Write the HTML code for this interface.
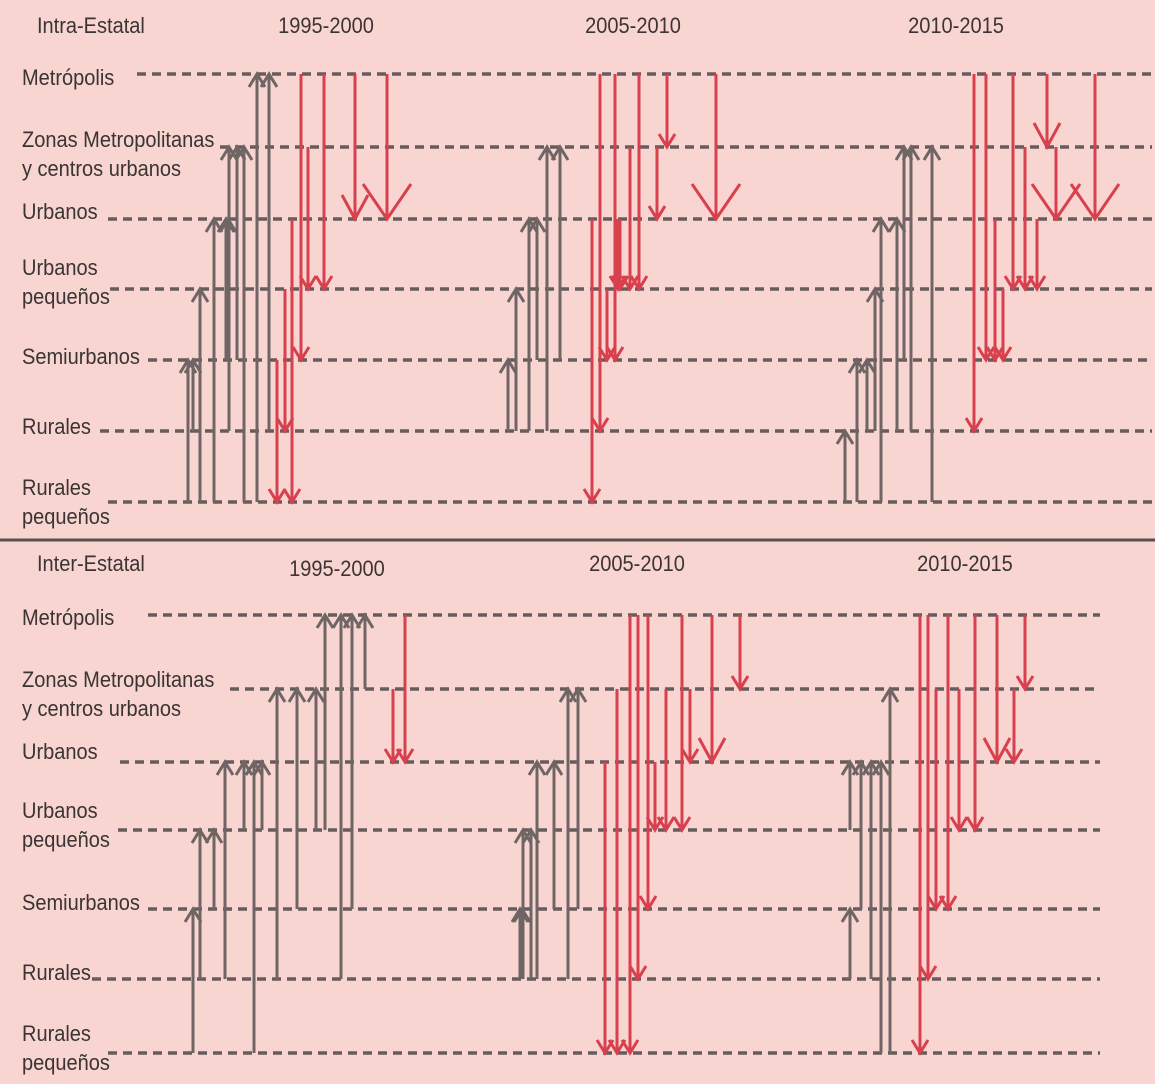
<!DOCTYPE html>
<html><head><meta charset="utf-8"><style>
html,body{margin:0;padding:0;background:#f8d5d0;}
svg{display:block;}
text{font-family:"Liberation Sans Narrow","Liberation Sans",sans-serif;fill:#3a3434;font-size:22px;}
</style></head><body>
<svg id="chart" width="1155" height="1084" viewBox="0 0 1155 1084" xmlns="http://www.w3.org/2000/svg">
<rect x="0" y="0" width="1155" height="1084" fill="#f8d5d0"/>
<line x1="0" y1="540" x2="1155" y2="540" stroke="#5a5050" stroke-width="3"/>
<g id="grid"></g>
<g id="labels"></g>
<g id="arrows"></g>
<g id="titles"></g>
</svg>
<script>
const categories = [["Metrópolis"],["Zonas Metropolitanas","y centros urbanos"],["Urbanos"],["Urbanos","pequeños"],["Semiurbanos"],["Rurales"],["Rurales","pequeños"]];
const topLevelsY = [74,147,219,289,360,431,502];
const bottomLevelsY = [615,689,762,830,909,979,1053];
const topLineStart = [137,220,108,110,148,100,108];
const bottomLineStart = [148,230,120,118,148,92,108];
const topLabelOffset = [11,0,0,-14,4,3,-7];
const bottomLabelOffset = [10,-2,-3,-12,1,1,-12];
// arrows: [x, fromLevel, toLevel, headSize(1 small,2 medium,3 big)]
const topArrows = [
 [188,6,4,1],[193,5,4,1],[200,6,3,1],[214,6,2,1],[226,4,2,1],[228,4,2,1],[229,5,1,1],[237,4,1,1],[244,6,1,1],[257,6,0,1],[269,5,0,1],
 [277,4,6,1],[285,3,5,1],[292,2,6,1],[301,0,4,1],[308,1,3,1],[324,0,3,1],[355,0,2,2],[387,0,2,3],
 [508,5,4,1],[516,5,3,1],[529,5,2,1],[537,4,2,1],[547,5,1,1],[560,4,1,1],
 [592,2,6,1],[600,0,5,1],[607,3,4,1],[615,0,4,1],[618,2,3,1],[620,2,3,1],[630,1,3,1],[639,0,3,1],[657,1,2,1],[667,0,1,1],[716,0,2,3],
 [845,6,5,1],[857,6,4,1],[867,5,4,1],[875,5,3,1],[881,6,2,1],[897,5,2,1],[904,4,1,1],[911,5,1,1],[932,6,1,1],
 [974,0,5,1],[986,0,4,1],[995,2,4,1],[1003,3,4,1],[1013,0,3,1],[1025,1,3,1],[1037,2,3,1],[1047,0,1,2],[1056,1,2,3],[1095,0,2,3]
];
const bottomArrows = [
 [193,6,4,1],[200,5,3,1],[214,4,3,1],[225,5,2,1],[244,3,2,1],[254,6,2,1],[262,3,2,1],[277,5,1,1],[297,4,1,1],[316,3,1,1],[325,3,0,1],[341,5,0,1],[352,4,0,1],[365,1,0,1],
 [393,1,2,1],[405,0,2,1],
 [520,5,4,1],[522,5,4,1],[523,5,3,1],[531,5,3,1],[537,5,2,1],[554,4,2,1],[568,5,1,1],[578,4,1,1],
 [605,2,6,1],[617,1,6,1],[630,0,6,1],[638,0,5,1],[648,0,4,1],[655,2,3,1],[666,1,3,1],[682,0,3,1],[690,1,2,1],[712,0,2,2],[740,0,1,1],
 [850,5,4,1],[850,3,2,1],[861,4,2,1],[871,5,2,1],[881,6,2,1],[890,6,1,1],
 [920,0,6,1],[928,0,5,1],[936,1,4,1],[948,0,4,1],[959,1,3,1],[975,0,3,1],[997,0,2,2],[1014,1,2,1],[1025,0,1,1]
];
const titleTexts = ["Intra-Estatal","1995-2000","2005-2010","2010-2015","Inter-Estatal","1995-2000","2005-2010","2010-2015"];
const NS='http://www.w3.org/2000/svg';
const SX=0.91;
const grid=document.getElementById('grid'), labels=document.getElementById('labels'), arrowsG=document.getElementById('arrows'), titlesG=document.getElementById('titles');
function mk(tag,attrs,parent){const e=document.createElementNS(NS,tag);for(const k in attrs)e.setAttribute(k,attrs[k]);parent.appendChild(e);return e;}
function txt(parent,x,y,s,anchor){
 const t=mk('text',{x:x,y:y,transform:'translate('+x+',0) scale('+SX+',1) translate('+(-x)+',0)'},parent);
 if(anchor)t.setAttribute('text-anchor',anchor);
 t.textContent=s;return t;
}
const titlePos=[[37,33,null],[326,33,'middle'],[633,33,'middle'],[956,33,'middle'],[37,571,null],[337,576,'middle'],[637,571,'middle'],[965,571,'middle']];
titleTexts.forEach((s,i)=>{
 const t=txt(titlesG,titlePos[i][0],titlePos[i][1],s,titlePos[i][2]);
 
 
});
function drawPanel(levels,starts,offs,endX,arrs,prefix){
 levels.forEach((y,i)=>{
  const l=mk('line',{x1:starts[i],y1:y,x2:endX,y2:y,stroke:'#675c5c','stroke-width':3.5,'stroke-dasharray':'9 6'},grid);
  
  
  categories[i].forEach((s,j)=>{
   const t=txt(labels,22,y+offs[i]+j*29,s);
   
   
  });
 });
 arrs.forEach((a,k)=>{
  const [x,f,to,h]=a;
  const y1=levels[f], y2=levels[to];
  const up=y2<y1;
  const col=up?'#6f6565':'#d8404e';
  const hw=[0,8,13,24][h], hh=[0,13,24,35][h];
  const g=mk('g',{},arrowsG);
  
  
  mk('line',{x1:x,y1:y1,x2:x,y2:y2,stroke:col,'stroke-width':3},g);
  const d=up?-1:1;
  mk('polyline',{points:(x-hw)+','+(y2-d*hh)+' '+x+','+y2+' '+(x+hw)+','+(y2-d*hh),fill:'none',stroke:col,'stroke-width':3},g);
 });
}
drawPanel(topLevelsY,topLineStart,topLabelOffset,1152,topArrows,'top');
drawPanel(bottomLevelsY,bottomLineStart,bottomLabelOffset,1100,bottomArrows,'bottom');
</script>
</body></html>
